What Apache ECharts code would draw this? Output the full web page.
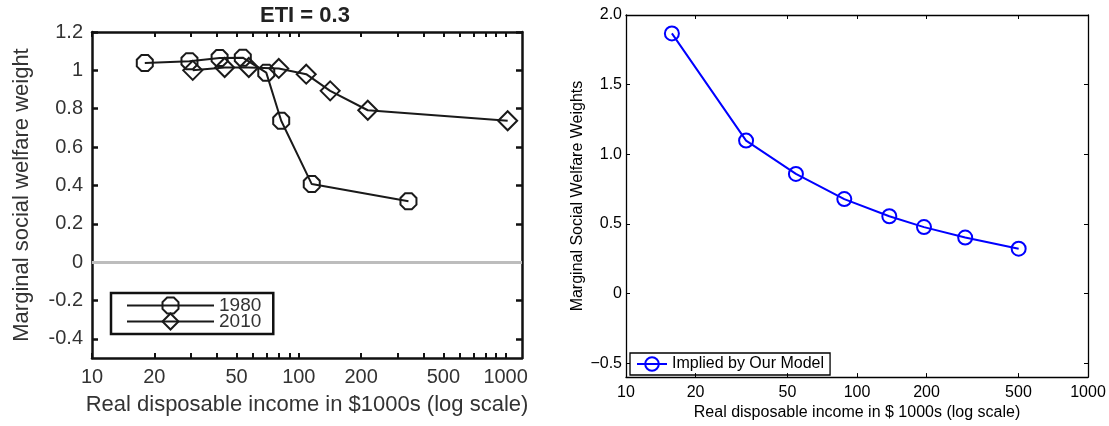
<!DOCTYPE html>
<html>
<head>
<meta charset="utf-8">
<title>Marginal social welfare weights</title>
<script src="https://cdn.jsdelivr.net/npm/echarts@6/dist/echarts.min.js"></script>
<style>
  html, body { margin: 0; padding: 0; background: #fff; }
  #main { width: 1109px; height: 426px; }
</style>
</head>
<body>
<div id="main"></div>
<script>
// left panel (ETI = 0.3)
var inc1980 = [18, 29.6, 41.4, 53.6, 69.6, 82.2, 115.5, 339];
var w1980 = [1.038, 1.048, 1.064, 1.066, 0.988, 0.737, 0.407, 0.317];
var inc2010 = [30.7, 43.8, 57.3, 80, 108.6, 141.8, 215.5, 1023];
var w2010 = [1.0, 1.015, 1.015, 1.01, 0.98, 0.893, 0.792, 0.737];

// right panel
var incModel = [15.8, 33.1, 54.4, 88.1, 138, 195, 294, 501];
var wModel = [1.868, 1.098, 0.859, 0.678, 0.555, 0.477, 0.402, 0.322];

// ticks
var xLabels = [10, 20, 50, 100, 200, 500, 1000];
var xMinor = [10, 20, 30, 40, 50, 60, 70, 80, 90, 100, 200, 300, 400, 500, 600, 700, 800, 900, 1000];
var yLeftTicks = [-0.4, -0.2, 0, 0.2, 0.4, 0.6, 0.8, 1, 1.2];
var yRightTicks = [-0.5, 0, 0.5, 1, 1.5, 2];

function pairs(xs, ys) {
  return xs.map(function (x, i) { return [x, ys[i]]; });
}

var font = 'Liberation Sans, Arial, Helvetica, sans-serif';
var octagon = 'path://M29,0 L71,0 L100,29 L100,71 L71,100 L29,100 L0,71 L0,29 Z';
var clear = 'rgba(0,0,0,0)';

function xAxisCfg(grid, pos, max, ticks, opt) {
  return {
    type: 'log', logBase: 10, gridIndex: grid, position: pos, min: 10, max: max,
    axisLine: { show: true, onZero: false, lineStyle: { color: opt.color, width: opt.lineW } },
    axisTick: { show: true, inside: true, length: opt.tickLen, customValues: ticks,
      lineStyle: { color: opt.color, width: opt.tickW } },
    axisLabel: { show: pos === 'bottom', customValues: xLabels, margin: opt.margin,
      fontSize: opt.fontSize, color: opt.textColor, fontFamily: font,
      formatter: function (v) { return String(Math.round(v)); } },
    splitLine: { show: false },
    name: pos === 'bottom' ? opt.name : '',
    nameLocation: 'middle', nameGap: opt.nameGap,
    nameTextStyle: { fontSize: opt.nameSize, color: opt.textColor, fontFamily: font }
  };
}

function yAxisCfg(grid, pos, min, max, ticks, opt) {
  return {
    type: 'value', gridIndex: grid, position: pos, min: min, max: max,
    axisLine: { show: true, onZero: false, lineStyle: { color: opt.color, width: opt.lineW } },
    axisTick: { show: true, inside: true, length: opt.tickLen, customValues: ticks,
      lineStyle: { color: opt.color, width: opt.tickW } },
    axisLabel: { show: pos === 'left', customValues: ticks, margin: opt.margin,
      fontSize: opt.fontSize, color: opt.textColor, fontFamily: font,
      formatter: opt.fmt },
    splitLine: { show: false },
    name: pos === 'left' ? opt.name : '',
    nameLocation: 'middle', nameGap: opt.nameGap,
    nameTextStyle: { fontSize: opt.nameSize, color: opt.textColor, fontFamily: font }
  };
}

var leftX = { color: '#111', lineW: 2.5, tickW: 2, tickLen: 5, margin: 9, fontSize: 20,
  textColor: '#333', name: 'Real disposable income in $1000s (log scale)', nameGap: 36, nameSize: 22 };
var leftY = { color: '#111', lineW: 2.5, tickW: 2.5, tickLen: 6, margin: 9, fontSize: 20,
  textColor: '#333', name: 'Marginal social welfare weight', nameGap: 59, nameSize: 22,
  fmt: function (v) { return String(+v.toFixed(1)); } };
var rightX = { color: '#000', lineW: 1.3, tickW: 1, tickLen: 4, margin: 7, fontSize: 16,
  textColor: '#000', name: 'Real disposable income in $ 1000s (log scale)', nameGap: 22, nameSize: 16 };
var rightY = { color: '#000', lineW: 1.3, tickW: 1, tickLen: 4, margin: 4, fontSize: 16,
  textColor: '#000', name: 'Marginal Social Welfare Weights', nameGap: 40, nameSize: 16,
  fmt: function (v) {
    if (v === 0) return '0';
    return (v < 0 ? '\u2212' : '') + Math.abs(v).toFixed(1);
  } };

var myChart = echarts.init(document.getElementById('main'));

var option = {
  animation: false,
  textStyle: { fontFamily: font },
  title: {
    text: 'ETI = 0.3', left: 260, top: 5, padding: 0,
    textStyle: { fontSize: 22, fontWeight: 'bold', color: '#222', fontFamily: font }
  },
  grid: [
    { left: 92, top: 32, width: 430, height: 326 },
    { left: 626, top: 15, width: 462, height: 367 }
  ],
  xAxis: [
    xAxisCfg(0, 'bottom', 1200, xMinor, leftX),
    xAxisCfg(0, 'top', 1200, xMinor, leftX),
    xAxisCfg(1, 'bottom', 1000, xLabels, rightX),
    xAxisCfg(1, 'top', 1000, xLabels, rightX)
  ],
  yAxis: [
    yAxisCfg(0, 'left', -0.5, 1.2, yLeftTicks, leftY),
    yAxisCfg(0, 'right', -0.5, 1.2, yLeftTicks, leftY),
    yAxisCfg(1, 'left', -0.6, 2, yRightTicks, rightY),
    yAxisCfg(1, 'right', -0.6, 2, yRightTicks, rightY)
  ],
  legend: [
    {
      data: ['1980', '2010'], orient: 'vertical', left: 111, top: 293,
      itemWidth: 87, itemHeight: 20, itemGap: -3, padding: [3, 12, 3, 15],
      borderColor: '#111', borderWidth: 2.5,
      textStyle: { fontSize: 19, color: '#333', fontFamily: font }
    },
    {
      data: ['Implied by Our Model'], left: 630, top: 353,
      itemWidth: 30, itemHeight: 17, padding: [3, 6, 3, 6],
      borderColor: '#000', borderWidth: 1.3,
      textStyle: { fontSize: 16, color: '#000', fontFamily: font }
    }
  ],
  series: [
    {
      name: '1980', type: 'line', xAxisIndex: 0, yAxisIndex: 0,
      data: pairs(inc1980, w1980),
      symbol: octagon, symbolSize: 16,
      lineStyle: { color: '#1a1a1a', width: 2 },
      itemStyle: { color: clear, borderColor: '#1a1a1a', borderWidth: 2 },
      markLine: {
        silent: true, symbol: 'none', label: { show: false },
        lineStyle: { color: '#bdbdbd', width: 3, type: 'solid' },
        data: [{ yAxis: 0 }]
      }
    },
    {
      name: '2010', type: 'line', xAxisIndex: 0, yAxisIndex: 0,
      data: pairs(inc2010, w2010),
      symbol: 'diamond', symbolSize: 19,
      lineStyle: { color: '#1a1a1a', width: 2 },
      itemStyle: { color: clear, borderColor: '#1a1a1a', borderWidth: 2 }
    },
    {
      name: 'Implied by Our Model', type: 'line', xAxisIndex: 2, yAxisIndex: 2,
      data: pairs(incModel, wModel),
      symbol: 'circle', symbolSize: 14,
      lineStyle: { color: '#0000ff', width: 2 },
      itemStyle: { color: clear, borderColor: '#0000ff', borderWidth: 2 }
    }
  ]
};

myChart.setOption(option);
</script>
</body>
</html>
